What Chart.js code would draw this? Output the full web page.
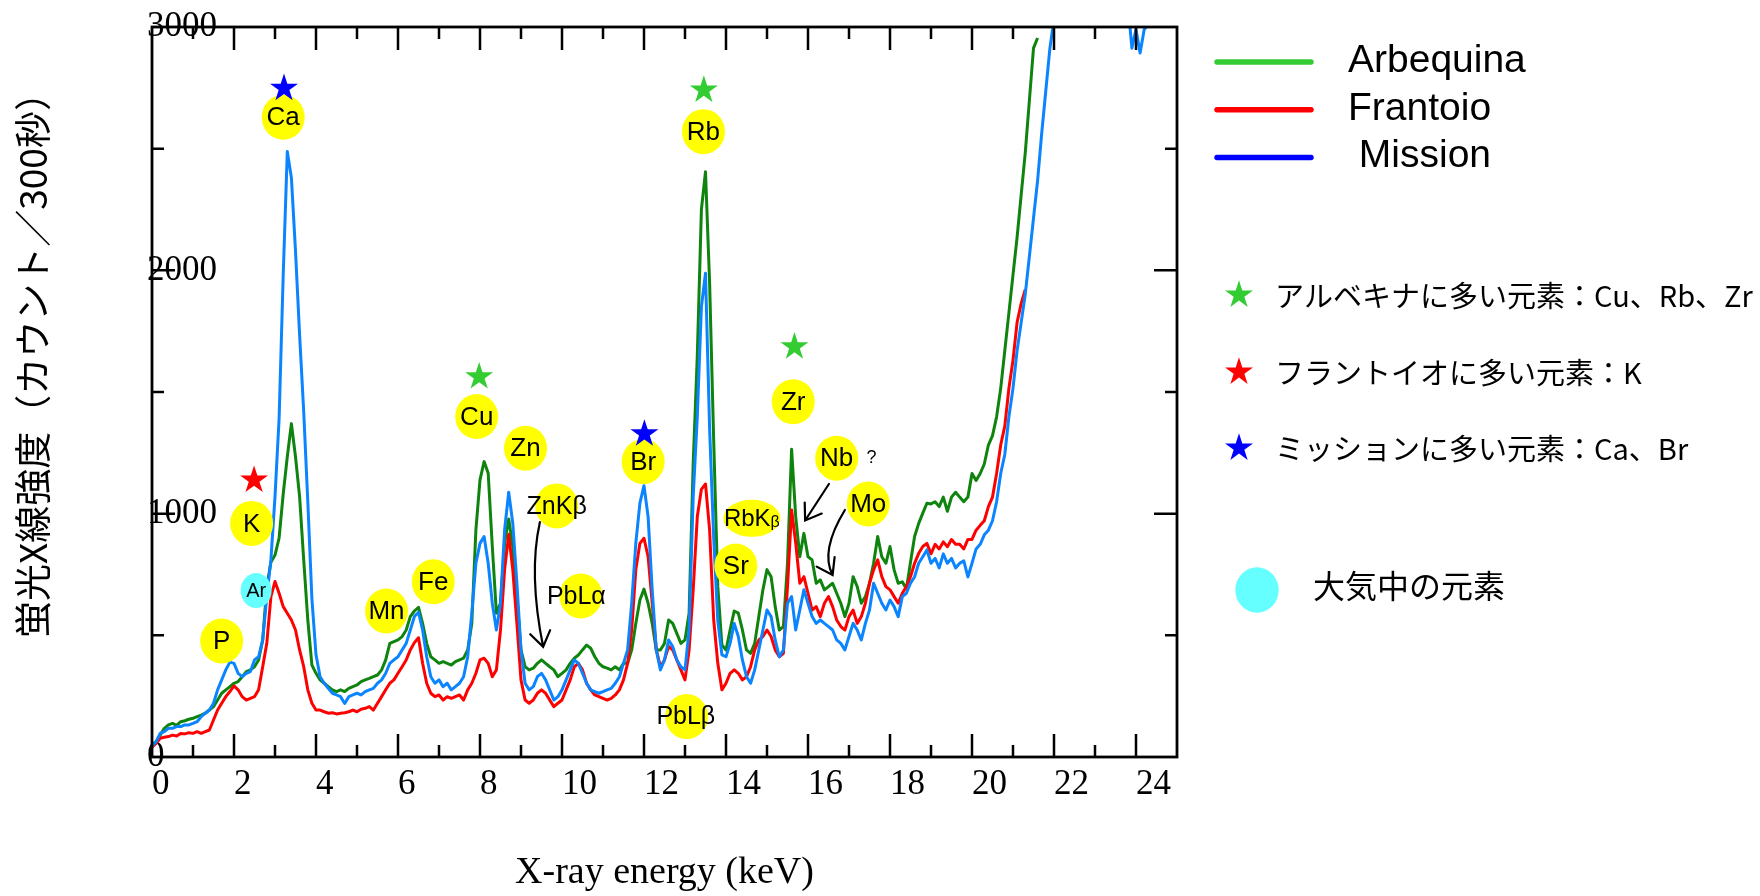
<!DOCTYPE html>
<html>
<head>
<meta charset="utf-8">
<script src="https://cdn.jsdelivr.net/npm/chart.js@4.4.1/dist/chart.umd.min.js"></script>
<style>
  html, body { margin: 0; padding: 0; background: #fff; }
  canvas { display: block; }
</style>
</head>
<body>
<canvas id="spectrum" width="1760" height="896"></canvas>
<script>
// spectra are stored one value per 0.1 keV channel, starting at 0 keV
var channelKeV = 0.1;

// counts / 300 s, one row per keV
var arbequina = [
  50, 63, 90, 118, 132, 138, 130, 145, 149, 155,
  159, 166, 172, 180, 193, 207, 234, 262, 276, 289,
  303, 310, 330, 351, 358, 371, 399, 480, 700, 800,
  830, 900, 1080, 1234, 1370, 1234, 1070, 810, 563, 378,
  344, 317, 303, 289, 276, 269, 276, 269, 282, 289,
  296, 310, 317, 323, 330, 337, 358, 399, 467, 474,
  481, 495, 522, 577, 600, 615, 549, 467, 412, 399,
  385, 392, 385, 378, 392, 399, 406, 440, 549, 933,
  1139, 1214, 1166, 865, 591, 632, 878, 978, 865, 659,
  440, 371, 358, 365, 385, 399, 385, 371, 358, 330,
  344, 358, 385, 406, 419, 440, 460, 447, 412, 385,
  371, 365, 358, 371, 358, 385, 385, 440, 549, 645,
  690, 632, 549, 440, 440, 467, 563, 549, 508, 467,
  481, 591, 1207, 1650, 2250, 2405, 1950, 1300, 700, 460,
  440, 522, 600, 591, 522, 440, 426, 467, 577, 687,
  770, 741, 618, 522, 536, 796, 1265, 988, 823, 919,
  823, 810, 714, 728, 687, 700, 714, 673, 632, 577,
  632, 741, 700, 632, 659, 714, 796, 906, 823, 796,
  865, 769, 714, 720, 690, 800, 906, 960, 1002, 1043,
  1040, 1049, 1029, 1068, 1010, 1068, 1088, 1068, 1049, 1068,
  1165, 1136, 1165, 1204, 1282, 1321, 1398, 1515, 1670, 1825,
  1981, 2136, 2311, 2485, 2699, 2913, 2955
];

var frantoio = [
  40, 56, 77, 81, 84, 90, 86, 97, 95, 100,
  97, 104, 97, 104, 111, 152, 193, 221, 248, 269,
  292, 276, 248, 234, 241, 248, 276, 371, 467, 659,
  721, 673, 618, 591, 563, 522, 440, 371, 276, 221,
  193, 193, 186, 180, 182, 177, 180, 182, 186, 193,
  186, 196, 200, 207, 193, 221, 248, 276, 303, 317,
  344, 371, 399, 440, 470, 490, 385, 303, 262, 248,
  255, 234, 248, 241, 248, 255, 234, 276, 303, 344,
  399, 406, 385, 330, 358, 522, 769, 915, 769, 549,
  317, 234, 221, 234, 262, 276, 262, 234, 207, 221,
  234, 276, 317, 371, 385, 358, 303, 276, 255, 248,
  241, 234, 241, 255, 276, 317, 385, 522, 769, 878,
  899, 823, 632, 440, 371, 399, 454, 440, 399, 358,
  317, 440, 687, 988, 1100, 1122, 933, 563, 385, 276,
  303, 344, 358, 344, 317, 330, 371, 440, 481, 495,
  522, 495, 440, 412, 426, 700, 1015, 880, 714, 741,
  673, 604, 618, 577, 632, 659, 618, 563, 536, 522,
  577, 604, 549, 577, 632, 714, 769, 810, 741, 700,
  687, 659, 632, 673, 700, 741, 796, 837, 865, 878,
  835, 874, 855, 884, 864, 894, 874, 874, 855, 894,
  894, 932, 952, 971, 1029, 1068, 1165, 1282, 1360, 1515,
  1631, 1786, 1864, 1922
];

// values past 3000 run off the top of the frame
var mission = [
  45, 63, 97, 104, 118, 118, 125, 125, 132, 132,
  138, 145, 166, 180, 193, 221, 276, 317, 358, 390,
  385, 344, 330, 344, 351, 399, 412, 481, 659, 810,
  1070, 1390, 1980, 2488, 2380, 2080, 1735, 1420, 1050, 650,
  420, 330, 303, 282, 262, 255, 248, 220, 248, 255,
  262, 255, 269, 276, 282, 303, 317, 344, 385, 399,
  412, 440, 467, 522, 577, 595, 522, 412, 330, 303,
  317, 289, 303, 276, 289, 303, 330, 412, 591, 796,
  878, 906, 796, 632, 522, 632, 933, 1088, 960, 714,
  440, 303, 276, 289, 330, 344, 317, 276, 234, 248,
  276, 317, 358, 399, 385, 344, 303, 276, 269, 262,
  269, 276, 282, 303, 330, 385, 440, 632, 878, 1043,
  1115, 988, 687, 440, 358, 399, 481, 454, 399, 371,
  358, 522, 1070, 1400, 1850, 1988, 1350, 900, 560, 420,
  412, 467, 549, 495, 399, 330, 303, 358, 440, 522,
  604, 577, 481, 412, 440, 632, 659, 522, 604, 687,
  632, 577, 549, 563, 549, 536, 522, 481, 467, 440,
  495, 549, 522, 481, 549, 604, 714, 673, 632, 604,
  645, 618, 577, 659, 673, 714, 741, 796, 823, 851,
  796, 816, 777, 835, 796, 816, 777, 796, 806, 740,
  796, 855, 874, 913, 932, 971, 1049, 1165, 1243, 1398,
  1515, 1670, 1786, 1903, 2058, 2214, 2369, 2563, 2738, 2913,
  3030, 3200, 3200, 3200, 3200, 3200, 3200, 3200, 3200, 3200,
  3200, 3200, 3200, 3200, 3200, 3200, 3200, 3200, 3100, 2913,
  2990, 2893, 2990, 3010, 3200, 3200
];

var seriesNames = ['Arbequina', 'Frantoio', ' Mission'];
var lineColors = ['#0e840e', '#ff0000', '#0a84ff'];
var keyColors = ['#33cc33', '#ff0000', '#0000ff'];

var keVRange = [0, 25];
var countRange = [0, 3000];

// element labels in yellow discs: [text, keV, counts]
var elementLabels = [
  ['P', 1.70, 477], ['K', 2.43, 960], ['Ca', 3.20, 2629], ['Mn', 5.72, 600],
  ['Fe', 6.86, 720], ['Cu', 7.92, 1399], ['Zn', 9.11, 1269], ['Br', 11.98, 1214],
  ['Rb', 13.45, 2570], ['Sr', 14.24, 785], ['Zr', 15.64, 1460], ['Nb', 16.70, 1228],
  ['Mo', 17.47, 1040]
];
// lines labelled with text wider than the disc: [text, disc keV, text keV, counts]
var lineLabels = [
  ['ZnKβ', 9.87, 9.87, 1032], ['PbLα', 10.46, 10.35, 662], ['PbLβ', 13.04, 13.02, 166]
];
var argonLabel = ['Ar', 2.54, 684];
var rbKbLabel = [14.63, 981];
var nbQuery = ['?', 17.55, 1228];

// stars over the elements that stand out for one cultivar: [colour, keV, counts]
var stars = [
  ['#ff0000', 2.49, 1138], ['#0000ff', 3.22, 2748], ['#33cc33', 7.98, 1563],
  ['#0000ff', 12.01, 1328], ['#33cc33', 13.46, 2741], ['#33cc33', 15.67, 1686]
];

// pointer arrows, [keV, counts] from tail to head (three points = curved)
var arrows = [
  [[9.46, 965], [9.34, 731], [9.54, 453]],
  [[16.51, 1122], [15.93, 972]],
  [[16.90, 1015], [16.52, 864], [16.60, 748]]
];

var starKeys = [
  ['#33cc33', 'アルベキナに多い元素：Cu、Rb、Zr'],
  ['#ff0000', 'フラントイオに多い元素：K'],
  ['#0000ff', 'ミッションに多い元素：Ca、Br']
];
var airKey = '大気中の元素';
var yTitle = '蛍光X線強度（カウント／300秒）';
var xTitle = 'X-ray energy (keV)';

function toPoints(values) {
  return values.map(function (v, i) { return { x: +(i * channelKeV).toFixed(1), y: v }; });
}

function drawStar(ctx, cx, cy, R, color) {
  var r = R * 0.382;
  ctx.beginPath();
  for (var i = 0; i < 10; i++) {
    var ang = -Math.PI / 2 + i * Math.PI / 5;
    var rad = i % 2 ? r : R;
    ctx.lineTo(cx + rad * Math.cos(ang), cy + rad * Math.sin(ang));
  }
  ctx.closePath();
  ctx.fillStyle = color;
  ctx.fill();
}

function disc(ctx, cx, cy, rx, ry, color) {
  ctx.beginPath();
  ctx.ellipse(cx, cy, rx, ry, 0, 0, Math.PI * 2);
  ctx.fillStyle = color;
  ctx.fill();
}

function drawArrow(ctx, pts) {
  ctx.beginPath();
  ctx.moveTo(pts[0].x, pts[0].y);
  var from;
  var tip = pts[pts.length - 1];
  if (pts.length === 3) {
    var c = {
      x: 2 * pts[1].x - (pts[0].x + tip.x) / 2,
      y: 2 * pts[1].y - (pts[0].y + tip.y) / 2
    };
    ctx.quadraticCurveTo(c.x, c.y, tip.x, tip.y);
    from = c;
  } else {
    ctx.lineTo(tip.x, tip.y);
    from = pts[0];
  }
  var ang = Math.atan2(tip.y - from.y, tip.x - from.x);
  var len = 18, spread = 0.6;
  ctx.moveTo(tip.x - len * Math.cos(ang - spread), tip.y - len * Math.sin(ang - spread));
  ctx.lineTo(tip.x, tip.y);
  ctx.lineTo(tip.x - len * Math.cos(ang + spread), tip.y - len * Math.sin(ang + spread));
  ctx.stroke();
}

// closed frame with inward ticks on all four sides
var frameTicks = {
  id: 'frameTicks',
  afterDatasetsDraw: function (chart) {
    var ctx = chart.ctx, a = chart.chartArea;
    var x = chart.scales.x, y = chart.scales.y;
    ctx.save();
    ctx.strokeStyle = '#000';
    ctx.lineWidth = 2.5;
    ctx.beginPath();
    for (var k = 1; k < keVRange[1]; k++) {
      var px = x.getPixelForValue(k);
      var len = k % 2 ? 12 : 23;
      ctx.moveTo(px, a.bottom); ctx.lineTo(px, a.bottom - len);
      ctx.moveTo(px, a.top); ctx.lineTo(px, a.top + len);
    }
    for (var v = 500; v < countRange[1]; v += 500) {
      var py = y.getPixelForValue(v);
      var l = v % 1000 ? 12 : 23;
      ctx.moveTo(a.left, py); ctx.lineTo(a.left + l, py);
      ctx.moveTo(a.right, py); ctx.lineTo(a.right - l, py);
    }
    ctx.stroke();
    ctx.lineWidth = 2.8;
    ctx.strokeRect(a.left, a.top, a.right - a.left, a.bottom - a.top);
    ctx.restore();
  }
};

// element discs, stars and arrows placed in data coordinates
var peakNotes = {
  id: 'peakNotes',
  afterDatasetsDraw: function (chart) {
    var ctx = chart.ctx;
    var x = chart.scales.x, y = chart.scales.y;
    function px(e) { return x.getPixelForValue(e); }
    function py(c) { return y.getPixelForValue(c); }
    ctx.save();
    ctx.textAlign = 'center';
    ctx.textBaseline = 'middle';

    elementLabels.forEach(function (d) {
      disc(ctx, px(d[1]), py(d[2]), 21.5, 22.5, '#ffff00');
      ctx.fillStyle = '#000';
      ctx.font = '26px "Liberation Sans", Arial, sans-serif';
      ctx.fillText(d[0], px(d[1]), py(d[2]) + 1);
    });

    lineLabels.forEach(function (d) {
      disc(ctx, px(d[1]), py(d[3]), 21.5, 22.5, '#ffff00');
      ctx.fillStyle = '#000';
      ctx.font = '25px "Liberation Sans", Arial, sans-serif';
      ctx.fillText(d[0], px(d[2]), py(d[3]) + 1);
    });

    disc(ctx, px(argonLabel[1]), py(argonLabel[2]), 15.5, 17.5, '#66ffff');
    ctx.fillStyle = '#000';
    ctx.font = '20px "Liberation Sans", Arial, sans-serif';
    ctx.fillText(argonLabel[0], px(argonLabel[1]), py(argonLabel[2]) + 1);

    // RbKβ: wide disc, small beta
    var rx = px(rbKbLabel[0]), ry = py(rbKbLabel[1]);
    disc(ctx, rx, ry, 28.5, 18.5, '#ffff00');
    ctx.font = '24px "Liberation Sans", Arial, sans-serif';
    var w1 = ctx.measureText('RbK').width;
    ctx.font = '16px "Liberation Sans", Arial, sans-serif';
    var w2 = ctx.measureText('β').width;
    var left = rx - (w1 + w2) / 2;
    ctx.textAlign = 'left';
    ctx.fillStyle = '#000';
    ctx.font = '24px "Liberation Sans", Arial, sans-serif';
    ctx.fillText('RbK', left, ry + 1);
    ctx.font = '16px "Liberation Sans", Arial, sans-serif';
    ctx.fillText('β', left + w1, ry + 4);
    ctx.textAlign = 'center';

    ctx.font = '18px "Liberation Sans", Arial, sans-serif';
    ctx.fillText(nbQuery[0], px(nbQuery[1]), py(nbQuery[2]));

    stars.forEach(function (s) {
      drawStar(ctx, px(s[1]), py(s[2]), 14.7, s[0]);
    });

    ctx.strokeStyle = '#000';
    ctx.lineWidth = 2.2;
    ctx.lineCap = 'round';
    arrows.forEach(function (a) {
      drawArrow(ctx, a.map(function (p) { return { x: px(p[0]), y: py(p[1]) }; }));
    });
    ctx.restore();
  }
};

// y title and the keys to the right of the frame
var sideKeys = {
  id: 'sideKeys',
  afterDraw: function (chart) {
    var ctx = chart.ctx;
    ctx.save();
    ctx.fillStyle = '#000';

    ctx.save();
    ctx.translate(33, 356);
    ctx.rotate(-Math.PI / 2);
    ctx.textAlign = 'center';
    ctx.textBaseline = 'middle';
    ctx.font = '37px "Noto Sans CJK JP", sans-serif';
    ctx.fillText(yTitle, 0, 0);
    ctx.restore();

    ctx.lineCap = 'round';
    ctx.lineWidth = 5.5;
    ctx.textAlign = 'left';
    ctx.textBaseline = 'alphabetic';
    ctx.font = '39px "Liberation Sans", Arial, sans-serif';
    seriesNames.forEach(function (name, i) {
      var yy = 62 + 47.8 * i;
      ctx.strokeStyle = keyColors[i];
      ctx.beginPath();
      ctx.moveTo(1217, yy);
      ctx.lineTo(1311, yy);
      ctx.stroke();
      ctx.fillStyle = '#000';
      ctx.fillText(name, 1348, yy + 9.8);
    });

    ctx.textBaseline = 'middle';
    ctx.font = '29px "Noto Sans CJK JP", sans-serif';
    var rows = [295, 372, 448];
    starKeys.forEach(function (k, i) {
      drawStar(ctx, 1239, rows[i], 14.7, k[0]);
      ctx.fillStyle = '#000';
      ctx.fillText(k[1], 1275, rows[i] + 1);
    });

    disc(ctx, 1257, 590, 21.7, 22.7, '#66ffff');
    ctx.fillStyle = '#000';
    ctx.font = '32px "Noto Sans CJK JP", sans-serif';
    ctx.fillText(airKey, 1313, 586);
    ctx.restore();
  }
};

var serif = { family: '"Liberation Serif", "Times New Roman", serif', size: 35 };

new Chart(document.getElementById('spectrum'), {
  type: 'line',
  data: {
    datasets: [
      { label: seriesNames[0], data: toPoints(arbequina), borderColor: lineColors[0], order: 2 },
      { label: seriesNames[1], data: toPoints(frantoio), borderColor: lineColors[1], order: 1 },
      { label: seriesNames[2].trim(), data: toPoints(mission), borderColor: lineColors[2], order: 0 }
    ]
  },
  options: {
    responsive: false,
    animation: false,
    devicePixelRatio: 1,
    events: [],
    layout: { padding: { left: 0, top: 27, right: 583, bottom: 0 } },
    elements: {
      line: { borderWidth: 3, tension: 0, borderJoinStyle: 'round', fill: false },
      point: { radius: 0 }
    },
    plugins: { legend: { display: false }, tooltip: { enabled: false } },
    scales: {
      x: {
        type: 'linear',
        min: keVRange[0],
        max: keVRange[1],
        grid: { display: false, drawTicks: false },
        border: { display: false },
        ticks: {
          stepSize: 2,
          includeBounds: false,
          align: 'start',
          maxRotation: 0,
          autoSkip: false,
          padding: 7,
          color: '#000',
          font: serif,
          callback: function (v) { return String(v); }
        },
        title: {
          display: true,
          text: xTitle,
          color: '#000',
          padding: { top: 0, bottom: 0 },
          font: { family: serif.family, size: 38 }
        },
        afterFit: function (s) { s.height = 139; }
      },
      y: {
        min: countRange[0],
        max: countRange[1],
        grid: { display: false, drawTicks: false },
        border: { display: false },
        ticks: {
          stepSize: 1000,
          mirror: true,
          padding: -5,
          color: '#000',
          font: serif,
          callback: function (v) { return String(v); }
        },
        afterFit: function (s) { s.width = 152; }
      }
    }
  },
  plugins: [frameTicks, peakNotes, sideKeys]
});
</script>
</body>
</html>
